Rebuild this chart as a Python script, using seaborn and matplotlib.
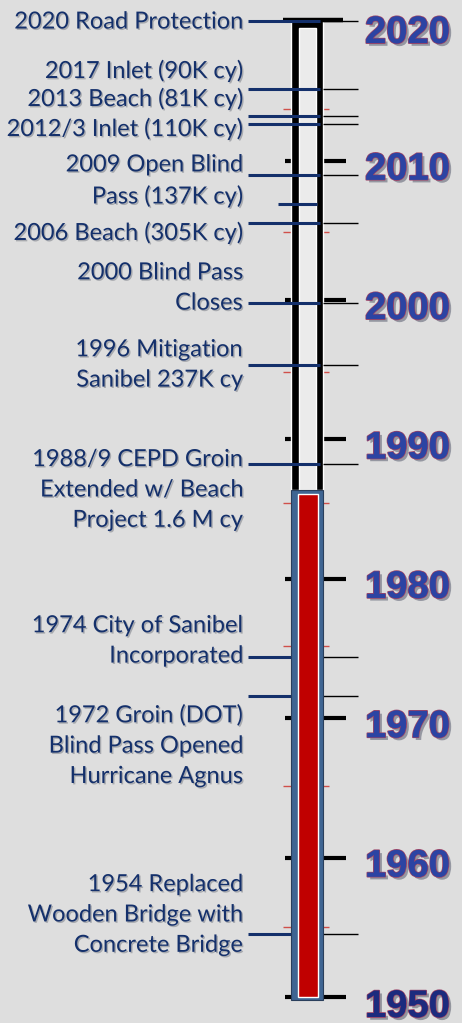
"""
Blind Pass timeline, 1950-2020.
Vertical time bar with event labels on the left and decade labels on the right.
"""

import matplotlib.pyplot as plt
import matplotlib.patheffects as pe
import seaborn as sns

sns.set_theme(style="white")
plt.rcParams["font.family"] = ["Lato", "DejaVu Sans"]

# ── Data ──────────────────────────────────────────────────────────────────────
events = [
    "2020 Road Protection",
    "2017 Inlet (90K cy)",
    "2013 Beach (81K cy)",
    "2012/3 Inlet (110K cy)",
    "2009 Open Blind\nPass (137K cy)",
    "2006 Beach (305K cy)",
    "2000 Blind Pass\nCloses",
    "1996 Mitigation\nSanibel 237K cy",
    "1988/9 CEPD Groin\nExtended w/ Beach\nProject 1.6 M cy",
    "1974 City of Sanibel\nIncorporated",
    "1972 Groin (DOT)\nBlind Pass Opened\nHurricane Agnus",
    "1954 Replaced\nWooden Bridge with\nConcrete Bridge",
]
# where each event's marker line sits on the time axis
event_marks = [2020.0, 2015.1, 2013.2, 2012.6, 2009.0, 2005.5,
               1999.8, 1995.3, 1988.2, 1974.4, 1971.6, 1954.5]
extra_marks = [2006.9]          # short extra marker, no right-hand line
decades = [1950, 1960, 1970, 1980, 1990, 2000, 2010, 2020]
half_ticks = [1955.0, 1965.1, 1975.2, 1985.4, 1994.8, 2004.9, 2013.7]
start_year, end_year = 1950, 2020
split_year = 1986.4             # red section ends, open section begins

# ── Layout (pixels on x, years on y) ─────────────────────────────────────────
label_y = [2019.94, 2016.43, 2014.42, 2012.27, 2008.54, 2004.81,
           2000.86, 1995.34, 1986.37, 1975.54, 1968.01, 1955.88]
NAVY = "#14306b"
BG = "#dedede"
YMIN, YMAX = 1948.13, 2021.52

fig = plt.figure(figsize=(4.62, 10.23), dpi=100)
fig.patch.set_facecolor(BG)
ax = fig.add_axes([0, 0, 1, 1])
ax.set_facecolor(BG)
ax.set_xlim(0, 462)
ax.set_ylim(YMIN, YMAX)
ax.axis("off")

# decade ticks and half-decade ticks (behind the bar)
ax.hlines(decades[:-1], 285, 346, color="black", linewidth=3.0, zorder=1)
ax.hlines(half_ticks, 283, 329, color="#d0504a", linewidth=1.0, zorder=1)

# open tube (1986 -> 2020)
ax.bar(307, end_year + 0.07 - split_year, bottom=split_year, width=32,
       color="black", zorder=2)
ax.bar(307.5, end_year - 0.5 - split_year, bottom=split_year, width=17,
       color="#ebebeb", zorder=3)
ax.hlines(end_year + 0.05, 283, 343, color="black", linewidth=3.2, zorder=3)

# event lines
ax.hlines(event_marks, 248, 320, color=NAVY, linewidth=2.2, zorder=4)
ax.hlines(extra_marks, 278, 317, color=NAVY, linewidth=2.2, zorder=4)
ax.hlines(event_marks, 323, 358, color="black", linewidth=1.0, zorder=4)

# red section (1950 -> 1986)
ax.bar(307, split_year - (start_year - 0.2), bottom=start_year - 0.2, width=32,
       color="#3f6592", edgecolor="#2a3f5c", linewidth=0.8, zorder=5)
ax.bar(308, split_year - 0.35 - start_year, bottom=start_year, width=20,
       color="#c00000", zorder=6)

# event labels
shadow = [pe.SimplePatchShadow(offset=(1, -1), alpha=0.25), pe.Normal()]
for text, y in zip(events, label_y):
    ax.text(243, y, text, ha="right", va="center", fontsize=17,
            color=NAVY, linespacing=1.55, path_effects=shadow, zorder=7)

# decade labels
for yr in decades:
    off = {start_year: 0.72, end_year: 0.85}.get(yr, 0.65)
    ax.text(365, yr - off, str(yr), ha="left", va="center",
            fontsize=27.5, fontweight="bold", family="Liberation Sans",
            color="#1c2b7e" if yr == start_year else "#2c44a3",
            path_effects=[pe.SimplePatchShadow(offset=(2, -2), alpha=0.35),
                          pe.withStroke(linewidth=1.3, foreground="#9a4468"),
                          pe.Normal()],
            zorder=7)

plt.savefig("out.png", dpi=100, facecolor=BG)
